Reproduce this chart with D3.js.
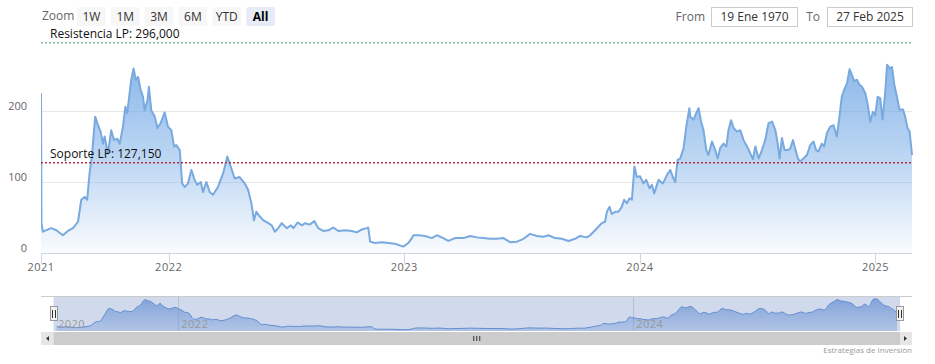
<!DOCTYPE html>
<html><head><meta charset="utf-8">
<script src="https://cdn.jsdelivr.net/npm/d3@7"></script>
<style>
body{margin:0;background:#fff;}
svg{display:block;font-family:"Open Sans",sans-serif;}
</style>
</head><body>
<svg id="chart" width="935" height="364"></svg>
<script>
// ---- data (decimal years, values) ----
const years = [2021.458,2021.460,2021.466,2021.501,2021.523,2021.551,2021.572,2021.594,2021.615,2021.629,2021.643,2021.654,2021.664,2021.674,2021.688,2021.700,2021.711,2021.721,2021.728,2021.742,2021.756,2021.768,2021.782,2021.792,2021.806,2021.816,2021.824,2021.834,2021.841,2021.851,2021.860,2021.870,2021.881,2021.891,2021.898,2021.910,2021.916,2021.926,2021.941,2021.952,2021.966,2021.983,2021.997,2022.011,2022.023,2022.032,2022.047,2022.057,2022.068,2022.082,2022.096,2022.110,2022.121,2022.136,2022.146,2022.160,2022.174,2022.188,2022.209,2022.231,2022.249,2022.263,2022.280,2022.301,2022.323,2022.337,2022.351,2022.362,2022.372,2022.388,2022.402,2022.423,2022.437,2022.451,2022.465,2022.480,2022.501,2022.519,2022.529,2022.548,2022.565,2022.579,2022.600,2022.618,2022.635,2022.656,2022.678,2022.699,2022.720,2022.749,2022.777,2022.798,2022.819,2022.841,2022.847,2022.855,2022.876,2022.904,2022.932,2022.961,2022.996,2023.017,2023.032,2023.039,2023.060,2023.088,2023.117,2023.138,2023.159,2023.187,2023.216,2023.251,2023.279,2023.308,2023.336,2023.364,2023.393,2023.421,2023.450,2023.478,2023.506,2023.534,2023.563,2023.591,2023.612,2023.640,2023.669,2023.697,2023.725,2023.746,2023.775,2023.789,2023.810,2023.824,2023.838,2023.852,2023.860,2023.871,2023.881,2023.895,2023.909,2023.923,2023.933,2023.945,2023.956,2023.966,2023.977,2023.987,2024.001,2024.015,2024.027,2024.041,2024.051,2024.061,2024.079,2024.098,2024.115,2024.129,2024.140,2024.150,2024.160,2024.171,2024.185,2024.197,2024.210,2024.214,2024.228,2024.239,2024.249,2024.260,2024.270,2024.282,2024.291,2024.306,2024.320,2024.330,2024.341,2024.355,2024.367,2024.376,2024.387,2024.398,2024.412,2024.426,2024.440,2024.455,2024.469,2024.480,2024.490,2024.504,2024.518,2024.532,2024.546,2024.561,2024.575,2024.585,2024.593,2024.603,2024.614,2024.627,2024.638,2024.650,2024.659,2024.671,2024.680,2024.694,2024.709,2024.723,2024.737,2024.748,2024.758,2024.772,2024.782,2024.794,2024.808,2024.822,2024.836,2024.847,2024.857,2024.867,2024.879,2024.890,2024.900,2024.910,2024.921,2024.932,2024.943,2024.957,2024.966,2024.978,2024.989,2024.999,2025.009,2025.020,2025.030,2025.041,2025.049,2025.063,2025.070,2025.080,2025.091,2025.102,2025.117,2025.126,2025.136,2025.145,2025.155];
const values = [225,42,30,35,32,25,31,35,44,75,79,75,112,136,192,180,171,154,164,140,173,159,161,154,178,206,197,225,244,260,244,248,230,220,201,215,234,201,192,176,183,198,178,173,150,152,145,98,93,98,117,103,96,100,86,100,86,82,93,112,136,122,105,107,98,89,70,46,58,51,46,42,39,30,35,42,35,39,35,43,39,42,40,45,35,31,32,36,31,32,31,29,33,35,36,16,14,15,14,13,9,14,21,25,25,24,21,25,22,17,21,21,24,22,21,20,20,21,15,16,20,27,24,23,25,21,20,17,20,24,22,25,32,37,42,44,58,65,55,58,58,65,75,70,77,75,122,107,108,98,103,91,96,84,103,98,110,117,107,100,131,133,147,178,204,192,188,197,204,185,173,145,138,157,145,133,148,154,150,173,187,176,171,173,159,150,140,132,150,133,145,159,183,185,173,154,133,162,145,145,147,159,147,133,129,133,138,152,157,145,143,154,150,169,178,180,164,192,220,230,239,259,251,242,244,237,234,225,211,185,199,194,220,218,188,225,265,260,262,237,220,202,202,192,176,171,138];

const yTicks = [0, 100, 200];
const xTickYears = [2021, 2022, 2023, 2024, 2025];
const xTickLabels = ["2021", "2022", "2023", "2024", "2025"];
const navTickYears = [2020, 2022, 2024];
const navTickLabels = ["2020", "2022", "2024"];
const resistance = 296.0;
const support = 127.15;
const resistanceLabel = "Resistencia LP: 296,000";
const supportLabel = "Soporte LP: 127,150";
const rangeButtons = ["1W", "1M", "3M", "6M", "YTD", "All"];
const selectedButton = "All";
const fromDate = "19 Ene 1970";
const toDate = "27 Feb 2025";
const credits = "Estrategias de Inversión";

const data = years.map((t, i) => ({t, v: values[i]}));

// ---- layout ----
const svg = d3.select("#chart");
const plot = {left: 41, right: 912, top: 40, bottom: 253};
const nav = {left: 41, right: 912, top: 296, bottom: 331, sLeft: 53.5, sRight: 900};

const x = d3.scaleLinear().domain([years[0], years[years.length - 1]]).range([plot.left, plot.right]);
const y = d3.scaleLinear().domain([0, 300]).range([plot.bottom, plot.top]);

const defs = svg.append("defs");
const g1 = defs.append("linearGradient").attr("id", "areaGrad")
  .attr("gradientUnits", "userSpaceOnUse").attr("x1", 0).attr("x2", 0)
  .attr("y1", y(265)).attr("y2", plot.bottom);
g1.append("stop").attr("offset", 0).attr("stop-color", "rgb(120,172,230)").attr("stop-opacity", 0.85);
g1.append("stop").attr("offset", 0.55).attr("stop-color", "rgb(120,172,230)").attr("stop-opacity", 0.45);
g1.append("stop").attr("offset", 1).attr("stop-color", "rgb(120,172,230)").attr("stop-opacity", 0.04);

defs.append("clipPath").attr("id", "plotClip").append("rect")
  .attr("x", plot.left).attr("y", plot.top - 10).attr("width", plot.right - plot.left + 1).attr("height", plot.bottom - plot.top + 10);

// gridlines
svg.append("g").selectAll("line").data(yTicks.filter(d => d > 0)).join("line")
  .attr("x1", plot.left).attr("x2", plot.right)
  .attr("y1", d => y(d) + 0.5).attr("y2", d => y(d) + 0.5)
  .attr("stroke", "#e6e6e6").attr("stroke-width", 1);

// y labels
svg.append("g").selectAll("text").data(yTicks).join("text")
  .attr("x", 27).attr("y", d => y(d) - 1.5)
  .attr("text-anchor", "end").attr("font-size", 11).attr("fill", "#666")
  .text(d => d);

// area + line
const area = d3.area().x(d => x(d.t)).y0(plot.bottom).y1(d => y(d.v));
const line = d3.line().x(d => x(d.t)).y(d => y(d.v));
const pg = svg.append("g").attr("clip-path", "url(#plotClip)");
pg.append("path").datum(data).attr("d", area).attr("fill", "url(#areaGrad)");
pg.append("path").datum(data).attr("d", line).attr("fill", "none")
  .attr("stroke", "#78a9df").attr("stroke-width", 2).attr("stroke-linejoin", "round");

// x axis
svg.append("line").attr("x1", plot.left).attr("x2", plot.right)
  .attr("y1", plot.bottom + 0.5).attr("y2", plot.bottom + 0.5).attr("stroke", "#ccd6eb");
const xTickPos = xTickYears.map(v => Math.max(v, x.domain()[0]));
const xg = svg.append("g");
xg.selectAll("line").data(xTickPos).join("line")
  .attr("x1", d => Math.round(x(d)) + 0.5).attr("x2", d => Math.round(x(d)) + 0.5)
  .attr("y1", plot.bottom).attr("y2", plot.bottom + 10).attr("stroke", "#ccd6eb");
xg.selectAll("text").data(xTickPos).join("text")
  .attr("x", d => x(d)).attr("y", 271).attr("text-anchor", "middle")
  .attr("font-size", 11).attr("fill", "#666").attr("letter-spacing", 0.5)
  .text((d, i) => xTickLabels[i]);

// plot lines
svg.append("line").attr("x1", plot.left).attr("x2", plot.right + 1)
  .attr("y1", y(resistance)).attr("y2", y(resistance))
  .attr("stroke", "#3f9a55").attr("stroke-width", 1).attr("stroke-dasharray", "2,2");
svg.append("text").attr("x", 50).attr("y", y(resistance) - 5).attr("font-size", 12).attr("fill", "#111")
  .text(resistanceLabel);
svg.append("line").attr("x1", plot.left).attr("x2", plot.right + 1)
  .attr("y1", y(support)).attr("y2", y(support))
  .attr("stroke", "#b0304a").attr("stroke-width", 1.5).attr("stroke-dasharray", "2,2");
svg.append("text").attr("x", 50).attr("y", y(support) - 5).attr("font-size", 12).attr("fill", "#111")
  .text(supportLabel);

// ---- range selector ----
svg.append("text").attr("x", 42).attr("y", 20).attr("font-size", 12).attr("fill", "#666").text("Zoom");
const bx = d3.scaleBand().domain(rangeButtons).range([77, 275]).paddingInner(0.15).paddingOuter(0);
const bg = svg.append("g").selectAll("g").data(rangeButtons).join("g");
bg.append("rect").attr("x", d => bx(d)).attr("y", 7).attr("width", bx.bandwidth()).attr("height", 19)
  .attr("rx", 2).attr("fill", d => d === selectedButton ? "#e6ebf5" : "#f7f7f7");
bg.append("text").attr("x", d => bx(d) + bx.bandwidth() / 2).attr("y", 21)
  .attr("text-anchor", "middle").attr("font-size", 12)
  .attr("font-weight", d => d === selectedButton ? "bold" : "normal")
  .attr("fill", d => d === selectedButton ? "#000" : "#333").text(d => d);

// date inputs
svg.append("text").attr("x", 705).attr("y", 21).attr("text-anchor", "end").attr("font-size", 12).attr("fill", "#666").text("From");
svg.append("rect").attr("x", 711.5).attr("y", 7.5).attr("width", 86).attr("height", 19).attr("fill", "#fff").attr("stroke", "#ccc");
svg.append("text").attr("x", 754.5).attr("y", 21).attr("text-anchor", "middle").attr("font-size", 12).attr("fill", "#333").text(fromDate);
svg.append("text").attr("x", 820).attr("y", 21).attr("text-anchor", "end").attr("font-size", 12).attr("fill", "#666").text("To");
svg.append("rect").attr("x", 827.5).attr("y", 7.5).attr("width", 85).attr("height", 19).attr("fill", "#fff").attr("stroke", "#ccc");
svg.append("text").attr("x", 870).attr("y", 21).attr("text-anchor", "middle").attr("font-size", 12).attr("fill", "#333").text(toDate);

// ---- navigator ----
const nx = d3.scaleLinear().domain(x.domain()).range([56, 897]);
const ny = d3.scaleLinear().domain([0, 285]).range([nav.bottom, nav.top]);
const g2 = defs.append("linearGradient").attr("id", "navGrad")
  .attr("gradientUnits", "userSpaceOnUse").attr("x1", 0).attr("x2", 0).attr("y1", nav.top).attr("y2", nav.bottom);
g2.append("stop").attr("offset", 0).attr("stop-color", "#5d8fd6").attr("stop-opacity", 0.75);
g2.append("stop").attr("offset", 1).attr("stop-color", "#7aa4e0").attr("stop-opacity", 0.35);

const navTickPos = navTickYears.map(v => Math.max(v, nx.domain()[0]));
svg.append("g").selectAll("line").data(navTickPos.slice(1)).join("line")
  .attr("x1", d => Math.round(nx(d)) - 0.5).attr("x2", d => Math.round(nx(d)) - 0.5)
  .attr("y1", nav.top).attr("y2", nav.bottom).attr("stroke", "#d8d8d8");

const narea = d3.area().x(d => nx(d.t)).y0(nav.bottom).y1(d => ny(d.v)).curve(d3.curveBasis);
const nline = d3.line().x(d => nx(d.t)).y(d => ny(d.v)).curve(d3.curveBasis);
const navData = data.slice(1);
svg.append("path").datum(navData).attr("d", narea).attr("fill", "url(#navGrad)");
svg.append("path").datum(navData).attr("d", nline).attr("fill", "none").attr("stroke", "#5f91d4").attr("stroke-width", 1);

// mask
svg.append("rect").attr("x", nav.sLeft).attr("y", nav.top).attr("width", nav.sRight - nav.sLeft)
  .attr("height", nav.bottom - nav.top).attr("fill", "rgba(102,133,194,0.3)");
// outline
svg.append("line").attr("x1", nav.left).attr("x2", nav.right).attr("y1", nav.top + 0.5).attr("y2", nav.top + 0.5).attr("stroke", "#cccccc");

svg.append("g").selectAll("text").data(navTickPos).join("text")
  .attr("x", d => nx(d) + 2).attr("y", 328).attr("font-size", 11).attr("fill", "#999").attr("letter-spacing", 0.5)
  .text((d, i) => navTickLabels[i]);

// handles
[nav.sLeft, nav.sRight].forEach(hx => {
  const h = svg.append("g");
  h.append("rect").attr("x", Math.round(hx) - 3.5).attr("y", 306.5).attr("width", 7).attr("height", 14)
    .attr("fill", "#f2f2f2").attr("stroke", "#999");
  [-1.5, 1.5].forEach(o => h.append("line").attr("x1", Math.round(hx) + o).attr("x2", Math.round(hx) + o)
    .attr("y1", 310).attr("y2", 318).attr("stroke", "#333"));
});

// scrollbar
const sb = {y: 332, h: 13};
svg.append("rect").attr("x", nav.left).attr("y", sb.y).attr("width", nav.right - nav.left).attr("height", sb.h).attr("fill", "#f2f2f2");
svg.append("rect").attr("x", nav.sLeft).attr("y", sb.y).attr("width", nav.sRight - nav.sLeft).attr("height", sb.h).attr("fill", "#cccccc");
const mid = (nav.sLeft + nav.sRight) / 2;
[-3, 0, 3].forEach(o => svg.append("line").attr("x1", mid + o).attr("x2", mid + o)
  .attr("y1", sb.y + 4).attr("y2", sb.y + 9).attr("stroke", "#333"));
svg.append("rect").attr("x", nav.left).attr("y", sb.y).attr("width", 12).attr("height", sb.h).attr("fill", "#e6e6e6");
svg.append("rect").attr("x", nav.right - 12).attr("y", sb.y).attr("width", 12).attr("height", sb.h).attr("fill", "#e6e6e6");
svg.append("path").attr("d", `M${nav.left + 8},${sb.y + 4} L${nav.left + 5},${sb.y + 6.5} L${nav.left + 8},${sb.y + 9} Z`).attr("fill", "#333");
svg.append("path").attr("d", `M${nav.right - 8},${sb.y + 4} L${nav.right - 5},${sb.y + 6.5} L${nav.right - 8},${sb.y + 9} Z`).attr("fill", "#333");

// credits
svg.append("text").attr("x", plot.right).attr("y", 353).attr("text-anchor", "end")
  .attr("font-size", 8).attr("fill", "#999").text(credits);
</script>
</body></html>
